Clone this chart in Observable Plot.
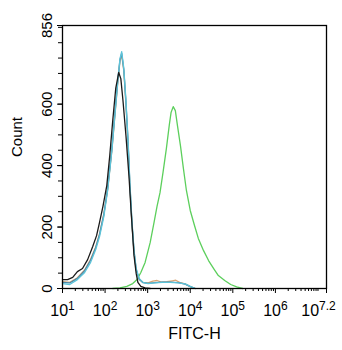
<!DOCTYPE html>
<html><head><meta charset="utf-8">
<script src="https://cdn.jsdelivr.net/npm/d3@7"></script>
<script src="https://cdn.jsdelivr.net/npm/@observablehq/plot@0.6"></script>
<style>body{margin:0;background:#fff}</style>
</head><body><div id="chart"></div>
<script>
// log10(FITC-H) positions and counts for each histogram
const blackLog   = [1.00,1.12,1.24,1.35,1.47,1.59,1.71,1.80,1.87,1.95,2.04,2.11,2.18,2.25,2.32,2.37,2.42,2.49,2.56,2.61,2.68,2.73,2.77,2.84,2.94,3.06];
const blackCount = [29,29,36,55,65,94,137,172,215,267,335,433,547,651,703,683,612,498,368,254,107,49,20,7,2,0];

const tealLog   = [1.00,1.17,1.35,1.52,1.66,1.78,1.87,1.97,2.06,2.16,2.23,2.30,2.35,2.39,2.44,2.49,2.54,2.58,2.63,2.68,2.73,2.80,2.89,3.01,3.17,3.34,3.53,3.72,3.88,4.00,4.12];
const tealCount = [16,13,29,52,85,127,169,234,319,449,563,677,748,771,716,612,482,351,221,124,65,33,20,16,18,20,20,18,15,7,0];

const blueLog   = [1.00,1.17,1.35,1.52,1.66,1.78,1.87,1.97,2.06,2.16,2.23,2.30,2.35,2.39,2.44,2.49,2.54,2.58,2.63,2.68,2.73,2.80,2.89,3.01,3.17,3.34,3.53,3.72,3.88,4.00,4.12];
const blueCount = [20,18,33,58,92,133,176,240,325,455,570,680,745,765,712,605,475,345,215,120,62,30,19,17,19,21,21,19,14,6,0];

const orangeLog   = [1.00,1.17,1.35,1.52,1.66,1.78,1.87,1.97,2.06,2.16,2.23,2.30,2.35,2.39,2.44,2.49,2.54,2.58,2.63,2.68,2.73,2.80,2.89,3.01,3.12,3.22,3.32,3.45,3.58,3.66,3.75,3.88,4.00,4.12];
const orangeCount = [22,20,35,60,95,135,178,242,322,450,562,672,740,760,708,600,470,340,212,118,60,30,20,18,24,26,21,22,25,27,20,15,6,0];

const greenLog   = [2.18,2.35,2.51,2.65,2.75,2.84,2.94,3.06,3.15,3.22,3.29,3.36,3.44,3.51,3.55,3.60,3.65,3.70,3.77,3.84,3.91,4.00,4.10,4.19,4.31,4.43,4.55,4.66,4.81,4.95,5.09,5.23];
const greenCount = [0,2,7,16,29,52,85,150,215,267,312,377,456,534,573,592,579,530,465,390,319,254,205,163,124,91,65,42,26,13,5,0];

const xTickExponents = ["1","2","3","4","5","6","7.2"];
const yTickValues = [0,200,400,600,856];
const yLabel = "Count";
const xLabel = "FITC-H";

const series = [
  {name:"green",  log:greenLog,  count:greenCount,  color:"#5ccf5c"},
  {name:"orange", log:orangeLog, count:orangeCount, color:"#d9a574"},
  {name:"blue",   log:blueLog,   count:blueCount,   color:"#4c86a6"},
  {name:"teal",   log:tealLog,   count:tealCount,   color:"#5cc3d9"},
  {name:"black",  log:blackLog,  count:blackCount,  color:"#1a1a1a"}
];
const rows = series.flatMap(s => s.log.map((l,i) => ({series:s.name, x: 10**l, y: s.count[i]})));

const majorX = xTickExponents.map(e => 10**(+e));
const minorX = [];
for (let e = 1; e < 7; e++) for (let m = 2; m <= 9; m++) minorX.push(m * 10**e);
minorX.push(1e7);
const minorY = d3.range(0, 856, 50);

const fontFamily = '"Liberation Sans", Arial, sans-serif';
const chart = Plot.plot({
  width: 342, height: 350,
  marginLeft: 62, marginRight: 16, marginTop: 25, marginBottom: 62,
  style: {fontSize: "15px", fontFamily, color: "#000", background: "#fff"},
  x: {type: "log", domain: [10, 10**7.2]},
  y: {domain: [0, 856]},
  marks: [
    Plot.axisX({ticks: minorX, tickSize: 3, tickFormat: () => "", label: null}),
    Plot.axisX({ticks: majorX, tickSize: 5, tickPadding: 11, fontSize: 16,
      tickFormat: d => "10^" + xTickExponents[majorX.indexOf(d)], label: null}),
    Plot.axisY({ticks: minorY, tickSize: 4, tickFormat: () => "", label: null}),
    Plot.axisY({ticks: yTickValues, tickSize: 5, tickRotate: -90, tickPadding: 6, label: null}),
    ...series.map(s => Plot.line(rows.filter(r => r.series === s.name),
      {x: "x", y: "y", stroke: s.color, strokeWidth: 1.3, curve: "linear"})),
    Plot.frame({stroke: "#000", strokeWidth: 1.3}),
    Plot.text([yLabel], {text: d => d, frameAnchor: "left", rotate: -90, dx: -45, fontSize: 15}),
    Plot.text([xLabel], {text: d => d, frameAnchor: "bottom", dy: 50, fontSize: 16})
  ]
});
document.getElementById("chart").appendChild(chart);

// superscript exponents on x tick labels
const labels = chart.querySelectorAll('g[aria-label="x-axis tick label"] text');
labels.forEach((t, i) => {
  const s = t.textContent;
  if (!s.includes("^")) return;
  const [base, exp] = s.split("^");
  t.textContent = "";
  const b = document.createElementNS("http://www.w3.org/2000/svg", "tspan");
  b.textContent = base;
  const e = document.createElementNS("http://www.w3.org/2000/svg", "tspan");
  e.textContent = exp;
  e.setAttribute("dy", "-6");
  e.setAttribute("font-size", "12");
  t.appendChild(b); t.appendChild(e);
  if (exp === "7.2") t.setAttribute("dx", "-8");
});
</script>
</body></html>
